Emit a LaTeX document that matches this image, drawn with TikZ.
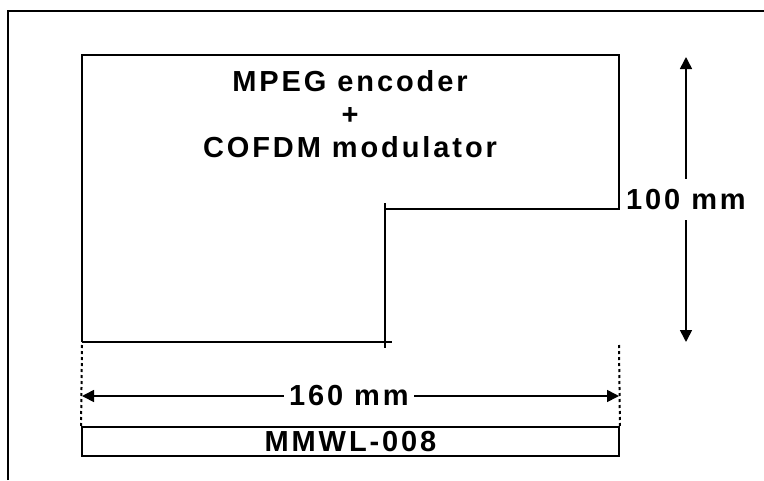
\documentclass[tikz,border=0pt]{standalone}
\usepackage{fontspec}
\setmainfont{Liberation Sans}
\newfontfamily\boardfont[LetterSpace=10]{Liberation Sans Bold}
\usetikzlibrary{arrows.meta}

\tikzset{
    frame/.style={line width=2pt},
    outline/.style={line width=1.9pt},
    dimarrow/.style={line width=1.6pt, {Triangle[length=12pt, width=12pt]}-{Triangle[length=12pt, width=12pt]}},
    dimlabel/.style={fill=white, inner xsep=5pt, inner ysep=10pt, font=\boardfont\fontsize{29}{34}\selectfont},
    guide/.style={line width=2pt, dash pattern=on 3pt off 3pt}
}

\begin{document}
\begin{tikzpicture}[x=1pt, y=-1pt]
        \useasboundingbox (0,0) rectangle (764,480);
        \draw[frame] (8,480) -- (8,11) -- (764,11);

        \coordinate (bnw) at (82,55);
        \coordinate (bne) at (619,55);
        \coordinate (bn1) at (619,209);
        \coordinate (bn2) at (385,209);
        \coordinate (bsw) at (82,342);
        \coordinate (bse) at (619,342);

        % dimensions
        \coordinate (vt) at (686,57);
        \coordinate (vb) at (686,342);
        \draw[dimarrow] (vt) -- node[dimlabel] (height) {100 mm} (vb);

        \node[draw, outline, minimum width=537pt, minimum height=29pt, inner sep=0pt,
              font=\boardfont\fontsize{29}{34}\selectfont] (partno) at (350.5,441.5) {MMWL-008};

        \foreach \c/\a in {bsw/north west, bse/north east}
            \draw[guide] ([yshift=-3pt]\c) -- (partno.\a);

        \coordinate (hl) at (82,396);
        \coordinate (hr) at (619,396);
        \draw[dimarrow] (hl) -- node[dimlabel, pos=0.497] (width) {160 mm} (hr);

        % board
        \draw[outline] (bsw) -- (bnw) -- (bne) -- (bn1) -- (bn2);
        \draw[outline] (385,203) -- (385,348);
        \draw[outline] (bsw) -- (392,342);

        \node[align=center, font=\boardfont\fontsize{29}{33}\selectfont] (title) at (350,114.5)
            {MPEG encoder\\+\\COFDM modulator};
\end{tikzpicture}
\end{document}
